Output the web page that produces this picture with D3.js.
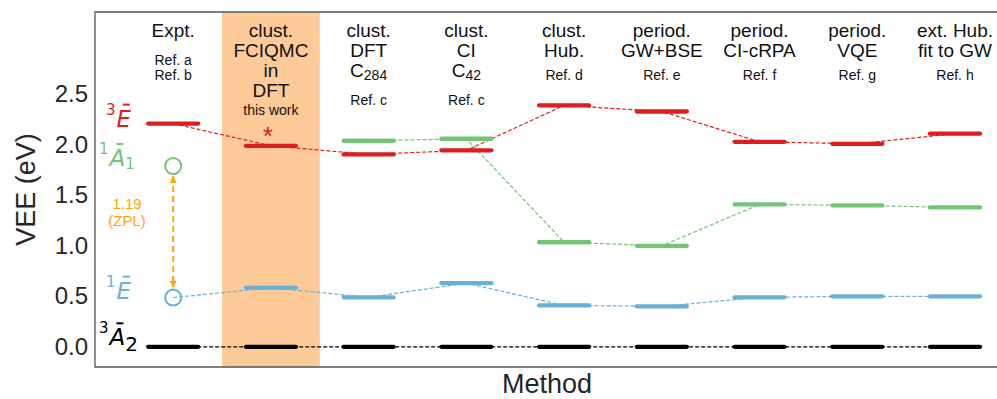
<!DOCTYPE html>
<html>
<head>
<meta charset="utf-8">
<script src="https://cdn.jsdelivr.net/npm/d3@7"></script>
<style>
  body { margin: 0; background: #fff; }
  svg { display: block; }
</style>
</head>
<body>
<div id="chart"></div>
<script>
// column headers (a "|" splits base text and subscript)
const headerLines = [
    ["Expt."],
    ["clust.", "FCIQMC", "in", "DFT"],
    ["clust.", "DFT", "C|284"],
    ["clust.", "CI", "C|42"],
    ["clust.", "Hub."],
    ["period.", "GW+BSE"],
    ["period.", "CI-cRPA"],
    ["period.", "VQE"],
    ["ext. Hub.", "fit to GW"]
];
const refLines = [
    ["Ref. a", "Ref. b"], ["this work"], ["Ref. c"], ["Ref. c"],
    ["Ref. d"], ["Ref. e"], ["Ref. f"], ["Ref. g"], ["Ref. h"]
];

// vertical excitation energies (eV), one per method
const groundA2  = [0, 0, 0, 0, 0, 0, 0, 0, 0];
const tripletE  = [2.21, 1.99, 1.905, 1.945, 2.39, 2.33, 2.03, 2.01, 2.11];
const singletA1 = [1.79, null, 2.04, 2.06, 1.035, 1.00, 1.41, 1.40, 1.38];
const singletE  = [0.487, 0.585, 0.49, 0.63, 0.41, 0.40, 0.49, 0.50, 0.50];
const zplText = ["1.19", "(ZPL)"];
const yTicks = [0, 0.5, 1.0, 1.5, 2.0, 2.5];

const width = 997, height = 399;
const red = "#dc1e1e", green = "#74c476", blue = "#6baed6", orange = "#ffa500";
const sans = 'Liberation Sans, Arial, sans-serif';

const svg = d3.select('#chart')
    .append('svg')
    .attr('width', width)
    .attr('height', height);

const x = d3.scaleLinear().domain([-0.8, 8.45]).range([95, 999]);
const y = d3.scaleLinear().domain([-0.2, 3.315]).range([367, 12]);

// highlight "this work"
svg.append('rect')
    .attr('x', x(0.5))
    .attr('y', y(3.315))
    .attr('width', x(1.5) - x(0.5))
    .attr('height', y(-0.2) - y(3.315))
    .attr('fill', '#fdca98');

// frame
svg.append('path')
    .attr('d', `M${x(8.45)},${y(3.315)}H${x(-0.8)}V${y(-0.2)}H${x(8.45)}`)
    .attr('fill', 'none')
    .attr('stroke', '#555')
    .attr('stroke-width', 1.3);

// y axis
const yAxis = svg.append('g')
    .attr('transform', `translate(${x(-0.8)},0)`)
    .call(d3.axisLeft(y).tickValues(yTicks).tickSize(0).tickPadding(7).tickFormat(d3.format('.1f')));
yAxis.select('.domain').remove();
yAxis.selectAll('text')
    .attr('font-family', sans)
    .attr('font-size', 24)
    .attr('fill', '#262626');

svg.append('text')
    .attr('transform', `translate(35,${(y(3.315) + y(-0.2)) / 2}) rotate(-90)`)
    .attr('text-anchor', 'middle')
    .attr('font-family', sans)
    .attr('font-size', 27)
    .attr('fill', '#262626')
    .text('VEE (eV)');

svg.append('text')
    .attr('x', (x(-0.8) + x(8.45)) / 2)
    .attr('y', 393)
    .attr('text-anchor', 'middle')
    .attr('font-family', sans)
    .attr('font-size', 27)
    .attr('fill', '#262626')
    .text('Method');

// column headers
const refTop = [65, 115, 105, 105, 80, 80, 80, 80, 80];
headerLines.forEach((lines, i) => {
    lines.forEach((ln, j) => {
        const t = svg.append('text')
            .attr('x', x(i))
            .attr('y', 37 + 20 * j)
            .attr('text-anchor', 'middle')
            .attr('font-family', sans)
            .attr('font-size', 19)
            .attr('fill', '#111');
        const parts = ln.split('|');
        t.append('tspan').text(parts[0]);
        if (parts[1]) t.append('tspan').attr('dy', 3).attr('font-size', 14).text(parts[1]);
    });
    refLines[i].forEach((ln, j) => {
        svg.append('text')
            .attr('x', x(i))
            .attr('y', refTop[i] + 15 * j)
            .attr('text-anchor', 'middle')
            .attr('font-family', sans)
            .attr('font-size', 14)
            .attr('fill', '#111')
            .text(ln);
    });
});

// dashed connectors, then level bars
const states = [
    { vals: groundA2, color: '#000', from: 0, bars: 0 },
    { vals: singletE, color: blue, from: 0, bars: 1 },
    { vals: singletA1, color: green, from: 2, bars: 2 },
    { vals: tripletE, color: red, from: 0, bars: 0 }
];
const line = d3.line()
    .defined(d => d.v !== null)
    .x(d => x(d.i))
    .y(d => y(d.v));

states.forEach(s => {
    const pts = s.vals.map((v, i) => ({ v, i })).filter(d => d.i >= s.from);
    svg.append('path')
        .datum(pts)
        .attr('d', line)
        .attr('fill', 'none')
        .attr('stroke', s.color)
        .attr('stroke-width', 1.2)
        .attr('stroke-dasharray', '4,2');
});
states.forEach(s => {
    svg.selectAll(null)
        .data(s.vals.map((v, i) => ({ v, i })).filter(d => d.v !== null && d.i >= s.bars))
        .enter()
        .append('line')
        .attr('x1', d => x(d.i) - 25)
        .attr('x2', d => x(d.i) + 25)
        .attr('y1', d => y(d.v))
        .attr('y2', d => y(d.v))
        .attr('stroke', s.color)
        .attr('stroke-width', 4.3)
        .attr('stroke-linecap', 'round');
});

// experimental singlets as open circles
[[singletA1[0], green], [singletE[0], blue]].forEach(([v, c]) => {
    svg.append('circle')
        .attr('cx', x(0))
        .attr('cy', y(v))
        .attr('r', 8)
        .attr('fill', 'none')
        .attr('stroke', c)
        .attr('stroke-width', 2);
});

// ZPL arrow
const defs = svg.append('defs');
defs.append('marker')
    .attr('id', 'head')
    .attr('viewBox', '0 0 10 10')
    .attr('refX', 10).attr('refY', 5)
    .attr('markerWidth', 7).attr('markerHeight', 7)
    .attr('markerUnits', 'userSpaceOnUse')
    .attr('orient', 'auto-start-reverse')
    .append('path')
    .attr('d', 'M0,0L10,5L0,10Z')
    .attr('fill', orange);
svg.append('line')
    .attr('x1', x(0)).attr('x2', x(0))
    .attr('y1', y(singletA1[0]) + 10)
    .attr('y2', y(singletE[0]) - 10)
    .attr('stroke', orange)
    .attr('stroke-width', 2)
    .attr('stroke-dasharray', '6,4')
    .attr('marker-start', 'url(#head)')
    .attr('marker-end', 'url(#head)');
zplText.forEach((t, j) => {
    svg.append('text')
        .attr('x', 127)
        .attr('y', 209 + 17 * j)
        .attr('text-anchor', 'middle')
        .attr('font-family', sans)
        .attr('font-size', 15)
        .attr('fill', orange)
        .text(t);
});

// asterisk marking this work
svg.append('text')
    .attr('x', x(1) - 3)
    .attr('y', y(tripletE[1]) - 1)
    .attr('text-anchor', 'middle')
    .attr('font-family', sans)
    .attr('font-size', 26)
    .attr('fill', red)
    .text('*');

// state labels like ³Ē
function stateLabel(x0, base, sup, letter, sub, color, subSize, subDy) {
    const g = svg.append('g').attr('fill', color).attr('font-family', 'DejaVu Sans, sans-serif');
    const t1 = g.append('text').attr('x', x0).attr('y', base - 12).attr('font-size', 15).text(sup);
    const w1 = t1.node().getComputedTextLength();
    const lx = x0 + w1 + 1;
    const t2 = g.append('text').attr('x', lx).attr('y', base).attr('font-size', 23)
        .attr('font-style', 'italic').text(letter);
    const w2 = t2.node().getComputedTextLength();
    g.append('rect')
        .attr('x', lx + w2 / 2 - 1)
        .attr('y', base - 23)
        .attr('width', 7)
        .attr('height', 2);
    if (sub) {
        g.append('text').attr('x', lx + w2).attr('y', base + subDy).attr('font-size', subSize).text(sub);
    }
}
stateLabel(106, y(tripletE[0]) + 3, '3', 'E', null, red);
stateLabel(99, y(singletA1[0]), '1', 'A', '1', green, 15, 3);
stateLabel(106, y(singletE[0]) + 1, '1', 'E', null, blue);
stateLabel(99, y(groundA2[0]) - 1.5, '3', 'A', '2', '#000', 20, 6);
</script>
</body>
</html>
